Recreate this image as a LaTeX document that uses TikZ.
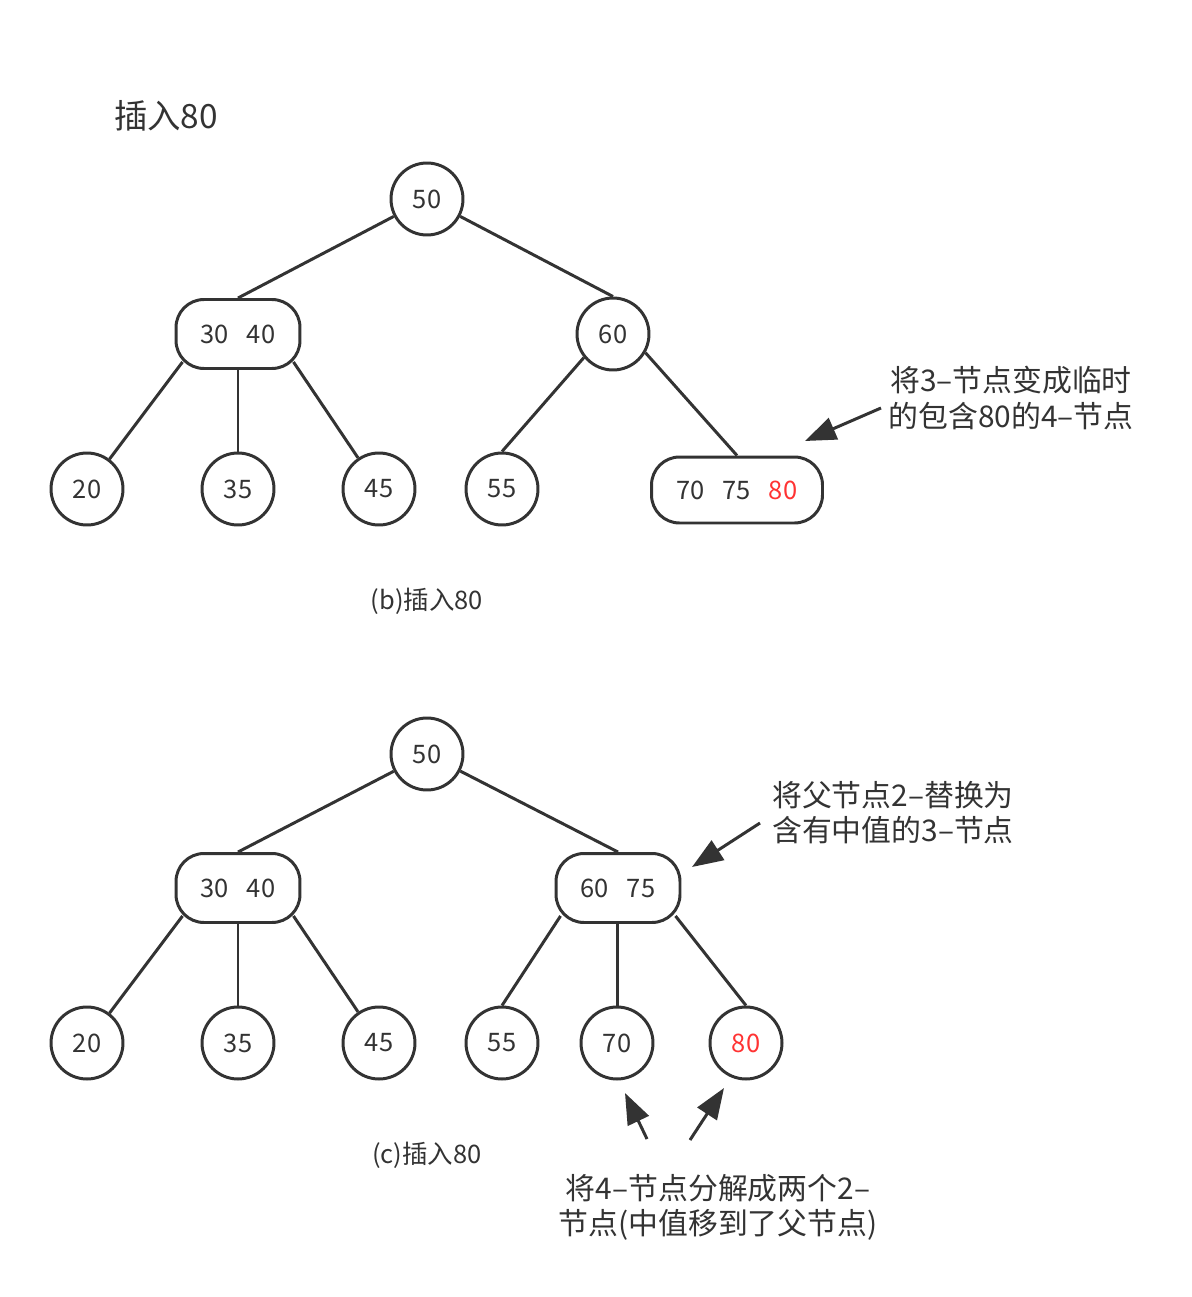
\documentclass[tikz,border=0pt]{standalone}
\usepackage{fontspec}
\setmainfont{Noto Sans CJK SC}
\usetikzlibrary{arrows.meta,calc}
\definecolor{ins80ink}{HTML}{333333}
\definecolor{ins80red}{HTML}{FF3333}
\begin{document}
\begin{tikzpicture}[
  x=0.02cm, y=-0.02cm,
  ins80line/.style = {draw=ins80ink, line width=1.7pt},
  ins80circ/.style = {ins80line, circle, minimum size=1.44cm, inner sep=0pt,
    text=ins80ink, font=\fontsize{14.5}{16}\selectfont},
  ins80box/.style = {ins80line, rectangle, rounded corners=0.56cm,
    minimum width=2.48cm, minimum height=1.38cm, inner sep=0pt,
    text=ins80ink, font=\fontsize{14.5}{16}\selectfont},
  ins80arr/.style = {ins80line, -{Triangle[length=0.62cm,width=0.46cm]}},
  ins80note/.style = {text=ins80ink, align=center, font=\fontsize{17}{20}\selectfont},
  ins80cap/.style = {text=ins80ink, font=\fontsize{14.5}{16}\selectfont}
]
  \useasboundingbox (0,0) rectangle (1191,1297);
  % 标题
  \node[text=ins80ink, font=\fontsize{19}{22}\selectfont] (title) at (166,116) {插入80};

  % (b) 节点
  \node[ins80circ] (r1) at (427,199) {50};
  \node[ins80box] (b1) at (238,334) {30\hspace{0.7em}40};
  \node[ins80circ] (n60) at (613,334) {60};
  \node[ins80circ] (l20) at (87,489) {20};
  \node[ins80circ] (l35) at (238,489) {35};
  \node[ins80circ] (l45) at (379,489) {45};
  \node[ins80circ] (l55) at (502,489) {55};
  \node[ins80box, minimum width=3.42cm, minimum height=1.32cm] (b2) at (737,490)
    {70\hspace{0.7em}75\hspace{0.7em}\textcolor{ins80red}{80}};
  % (b) 连线
  \draw[ins80line] (r1) -- (b1.north);
  \draw[ins80line] (r1) -- (n60.north);
  \draw[ins80line] ($(b1.south west)+(8,-8)$) -- (l20);
  \draw[ins80line] (b1.south) -- (l35);
  \draw[ins80line] ($(b1.south east)+(-8,-8)$) -- (l45);
  \draw[ins80line] (n60.219) -- (l55.north);
  \draw[ins80line] (n60.-30) -- (b2.north);
  % (b) 说明
  \node[ins80note] (noteb) at (1011,398) {将3–节点变成临时\\的包含80的4–节点};
  \coordinate (ab1) at (881,408);
  \coordinate (ab2) at (805,441);
  \draw[ins80arr] (ab1) -- (ab2);
  \node[ins80cap] (capb) at (427,601) {(b)插入80};

  % (c) 节点
  \node[ins80circ] (r2) at (427,754) {50};
  \node[ins80box] (c1) at (238,888) {30\hspace{0.7em}40};
  \node[ins80box] (c2) at (618,888) {60\hspace{0.7em}75};
  \node[ins80circ] (m20) at (87,1043) {20};
  \node[ins80circ] (m35) at (238,1043) {35};
  \node[ins80circ] (m45) at (379,1043) {45};
  \node[ins80circ] (m55) at (502,1043) {55};
  \node[ins80circ] (m70) at (617,1043) {70};
  \node[ins80circ, text=ins80red] (m80) at (746,1043) {80};
  % (c) 连线
  \draw[ins80line] (r2) -- (c1.north);
  \draw[ins80line] (r2) -- (c2.north);
  \draw[ins80line] ($(c1.south west)+(8,-8)$) -- (m20);
  \draw[ins80line] (c1.south) -- (m35);
  \draw[ins80line] ($(c1.south east)+(-8,-8)$) -- (m45);
  \draw[ins80line] ($(c2.south west)+(6,-8)$) -- (m55.north);
  \draw[ins80line] (c2.south -| m70) -- (m70.north);
  \draw[ins80line] ($(c2.south east)+(-6,-8)$) -- (m80.north);
  % (c) 说明
  \node[ins80note] (notec) at (893,813) {将父节点2–替换为\\含有中值的3–节点};
  \coordinate (ac1) at (760,823);
  \coordinate (ac2) at (692,867);
  \draw[ins80arr] (ac1) -- (ac2);
  \node[ins80note] (noted) at (718,1207) {将4–节点分解成两个2–\\节点(中值移到了父节点)};
  \coordinate (ad1) at (647,1139);
  \coordinate (ad2) at (625,1093);
  \coordinate (ad3) at (690,1140);
  \coordinate (ad4) at (724,1088);
  \draw[ins80arr] (ad1) -- (ad2);
  \draw[ins80arr] (ad3) -- (ad4);
  \node[ins80cap] (capc) at (427,1155) {(c)插入80};
\end{tikzpicture}
\end{document}
